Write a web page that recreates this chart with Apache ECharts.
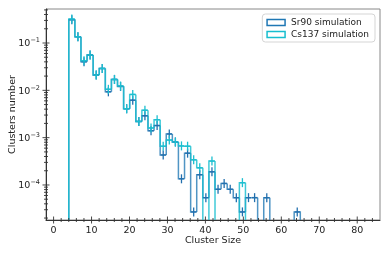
<!DOCTYPE html>
<html><head><meta charset="utf-8">
<script src="https://cdn.jsdelivr.net/npm/echarts@6/dist/echarts.min.js"></script>
<style>html,body{margin:0;padding:0;background:#fff}#c{width:390px;height:256px}</style>
</head><body><div id="c"></div>
<script>
// ---- data ----
const binEdges = [4.00, 5.61, 7.21, 8.82, 10.42, 12.03, 13.63, 15.24, 16.84, 18.45, 20.05, 21.66, 23.26, 24.87, 26.47, 28.08, 29.68, 31.29, 32.89, 34.50, 36.11, 37.71, 39.32, 40.92, 42.53, 44.13, 45.74, 47.34, 48.95, 50.55, 52.16, 53.76, 55.37, 56.97, 58.58, 60.18, 61.79, 63.39, 65.00];
const sr90 = [0.31, 0.136, 0.040, 0.0557, 0.021, 0.029, 0.0093, 0.017, 0.0121, 0.0041, 0.0062, 0.0022, 0.0029, 0.0014, 0.0018, 0.00043, 0.0012, 0.00081, 0.000135, 0.00047, 0.000027, 0.000165, 0.000054, 0.00019, 0.000081, 0.000108, 0.000081, 0.000054, 0.000027, 0.000054, 0.000054, 0, 0.000054, 0, 0, 0, 0, 0.000027];
const cs137 = [0.32, 0.136, 0.042, 0.0557, 0.021, 0.029, 0.0105, 0.017, 0.0123, 0.0041, 0.0082, 0.0022, 0.0038, 0.0016, 0.0024, 0.00066, 0.00089, 0.00081, 0.00067, 0.00066, 0.00034, 0.00023, 0, 0.00032, 0, 0, 0, 0, 0.000112, 0, 0, 0, 0, 0, 0, 0, 0, 0];
const seriesNames = ['Sr90 simulation', 'Cs137 simulation'];
const xTickLabels = [0, 10, 20, 30, 40, 50, 60, 70, 80];
const xMinorTicks = [2, 4, 6, 8, 12, 14, 16, 18, 22, 24, 26, 28, 32, 34, 36, 38, 42, 44, 46, 48, 52, 54, 56, 58, 62, 64, 66, 68, 72, 74, 76, 78, 82, 84];
const yTickValues = [1e-4, 1e-3, 1e-2, 1e-1];
const yMinorTicks = [2e-5, 3e-5, 4e-5, 5e-5, 6e-5, 7e-5, 8e-5, 9e-5, 2e-4, 3e-4, 4e-4, 5e-4, 6e-4, 7e-4, 8e-4, 9e-4, 2e-3, 3e-3, 4e-3, 5e-3, 6e-3, 7e-3, 8e-3, 9e-3, 2e-2, 3e-2, 4e-2, 5e-2, 6e-2, 7e-2, 8e-2, 9e-2, 2e-1, 3e-1, 4e-1, 5e-1];
const X_MIN = -2, X_MAX = 86, Y_MIN = 1.82e-5, Y_MAX = 0.523;

// ---- styling ----
const FONT = 'DejaVu Sans';
const C_SR = 'rgba(31,119,180,0.78)', C_SR_ERR = '#2370ae';
const C_CS = 'rgba(23,190,207,0.82)', C_CS_ERR = '#1cbfd0';
const AX = '#333';

function histItems(vals) {
  return vals.map((v, k) => [binEdges[k], binEdges[k + 1], v, k > 0 ? vals[k - 1] : 0, k === vals.length - 1 ? 1 : 0]);
}
function errItems(vals) {
  return vals.map((v, k) => [(binEdges[k] + binEdges[k + 1]) / 2, v]);
}
function renderHist(color) {
  return function (params, api) {
    const xl = api.value(0), xr = api.value(1), v = api.value(2), pv = api.value(3), last = api.value(4);
    const yOf = val => api.coord([xl, val > 0 ? val : Y_MIN])[1];
    const xL = api.coord([xl, Y_MIN])[0], xR = api.coord([xr, Y_MIN])[0];
    const kids = [];
    const st = { stroke: color, lineWidth: 1.5, fill: null, lineJoin: 'miter' };
    if (v > 0) {
      const pts = [[xL, yOf(pv)], [xL, yOf(v)], [xR, yOf(v)]];
      if (last) pts.push([xR, yOf(0)]);
      kids.push({ type: 'polyline', shape: { points: pts }, style: st });
    } else if (pv > 0) {
      kids.push({ type: 'polyline', shape: { points: [[xL, yOf(pv)], [xL, yOf(0)]] }, style: st });
    }
    return { type: 'group', children: kids };
  };
}
function renderErr(color) {
  return function (params, api) {
    const v = api.value(1);
    if (!(v > 0)) return { type: 'group', children: [] };
    const p = api.coord([api.value(0), v]);
    const st = { stroke: color, lineWidth: 1.3 };
    return { type: 'group', children: [
      { type: 'line', shape: { x1: p[0], y1: p[1] - 4.5, x2: p[0], y2: p[1] + 4.5 }, style: st },
      { type: 'line', shape: { x1: p[0] - 2.7, y1: p[1], x2: p[0] + 2.7, y2: p[1] }, style: st }
    ] };
  };
}
// tick marks (in/out), placed through the axes' scales
const tickItems = [].concat(
  xTickLabels.map(v => [v, Y_MIN, 0]),
  xMinorTicks.map(v => [v, Y_MIN, 1]),
  yTickValues.map(v => [X_MIN, v, 2]),
  yMinorTicks.map(v => [X_MIN, v, 3])
);
function renderTicks(params, api) {
  const kind = api.value(2);
  const p = api.coord([api.value(0), api.value(1)]);
  const len = (kind === 0 || kind === 2) ? 3.5 : 2;
  const st = { stroke: AX, lineWidth: 0.9 };
  if (kind < 2) return { type: 'line', shape: { x1: p[0], y1: p[1] - len, x2: p[0], y2: p[1] + len }, style: st };
  return { type: 'line', shape: { x1: p[0] - len, y1: p[1], x2: p[0] + len, y2: p[1] }, style: st };
}

const chart = echarts.init(document.getElementById('c'), null, { renderer: 'canvas' });
chart.setOption({
  animation: false,
  backgroundColor: '#fff',
  grid: { left: 46, top: 9, right: 10, bottom: 36, show: true, borderColor: '#888', borderWidth: 1, backgroundColor: 'transparent', outerBoundsMode: 'none', containLabel: false },
  legend: {
    orient: 'vertical', right: 15, top: 14, itemWidth: 18, itemHeight: 6, itemGap: 3,
    padding: [4, 6, 3, 4], backgroundColor: 'rgba(255,255,255,0.8)', borderColor: '#d5d5d5', borderWidth: 1, borderRadius: 3,
    textStyle: { fontFamily: FONT, fontSize: 9, color: '#222', padding: [0, 0, 0, 1] },
    data: [
      { name: seriesNames[0], icon: 'rect', itemStyle: { color: 'rgba(0,0,0,0)', borderColor: '#1f77b4', borderWidth: 1.5 } },
      { name: seriesNames[1], icon: 'rect', itemStyle: { color: 'rgba(0,0,0,0)', borderColor: '#17becf', borderWidth: 1.5 } }
    ]
  },
  xAxis: {
    type: 'value', min: X_MIN, max: X_MAX,
    axisLine: { show: true, onZero: false, lineStyle: { color: AX, width: 1 } },
    axisTick: { show: false }, splitLine: { show: false },
    axisLabel: { customValues: xTickLabels, margin: 6, fontSize: 9.5, fontFamily: FONT, color: '#222' },
    name: 'Cluster Size', nameLocation: 'middle', nameGap: 16, nameMoveOverlap: false,
    nameTextStyle: { fontSize: 9.5, fontFamily: FONT, color: '#222' }
  },
  yAxis: {
    type: 'log', logBase: 10, min: Y_MIN, max: Y_MAX,
    axisLine: { show: true, onZero: false, lineStyle: { color: AX, width: 1 } },
    axisTick: { show: false }, splitLine: { show: false }, minorTick: { show: false },
    axisLabel: {
      margin: 6, showMinLabel: false, showMaxLabel: false,
      formatter: function (v) {
        const e = Math.round(Math.log10(v));
        if (Math.abs(Math.log10(v) - e) > 1e-6) return '';
        return '{b|10}{s|\u2212' + (-e) + '}';
      },
      rich: {
        b: { fontSize: 9.5, fontFamily: FONT, color: '#222', verticalAlign: 'bottom' },
        s: { fontSize: 6.5, fontFamily: FONT, color: '#222', verticalAlign: 'bottom', padding: [0, 0, 5, 0] }
      }
    },
    name: 'Clusters number', nameLocation: 'middle', nameGap: 28, nameMoveOverlap: false,
    nameTextStyle: { fontSize: 9.5, fontFamily: FONT, color: '#222' }
  },
  series: [
    { type: 'custom', name: seriesNames[0], renderItem: renderHist(C_SR), data: histItems(sr90), encode: { x: [0, 1], y: [2, 3] }, clip: true, z: 2, silent: true },
    { type: 'custom', name: seriesNames[1], renderItem: renderHist(C_CS), data: histItems(cs137), encode: { x: [0, 1], y: [2, 3] }, clip: true, z: 2, silent: true },
    { type: 'custom', name: seriesNames[0], renderItem: renderErr(C_SR_ERR), data: errItems(sr90), encode: { x: 0, y: 1 }, clip: true, z: 3, silent: true },
    { type: 'custom', name: seriesNames[1], renderItem: renderErr(C_CS_ERR), data: errItems(cs137), encode: { x: 0, y: 1 }, clip: true, z: 3, silent: true },
    { type: 'custom', name: 'ticks', renderItem: renderTicks, data: tickItems, encode: { x: 0, y: 1 }, clip: false, z: 5, silent: true }
  ]
});
</script></body></html>
